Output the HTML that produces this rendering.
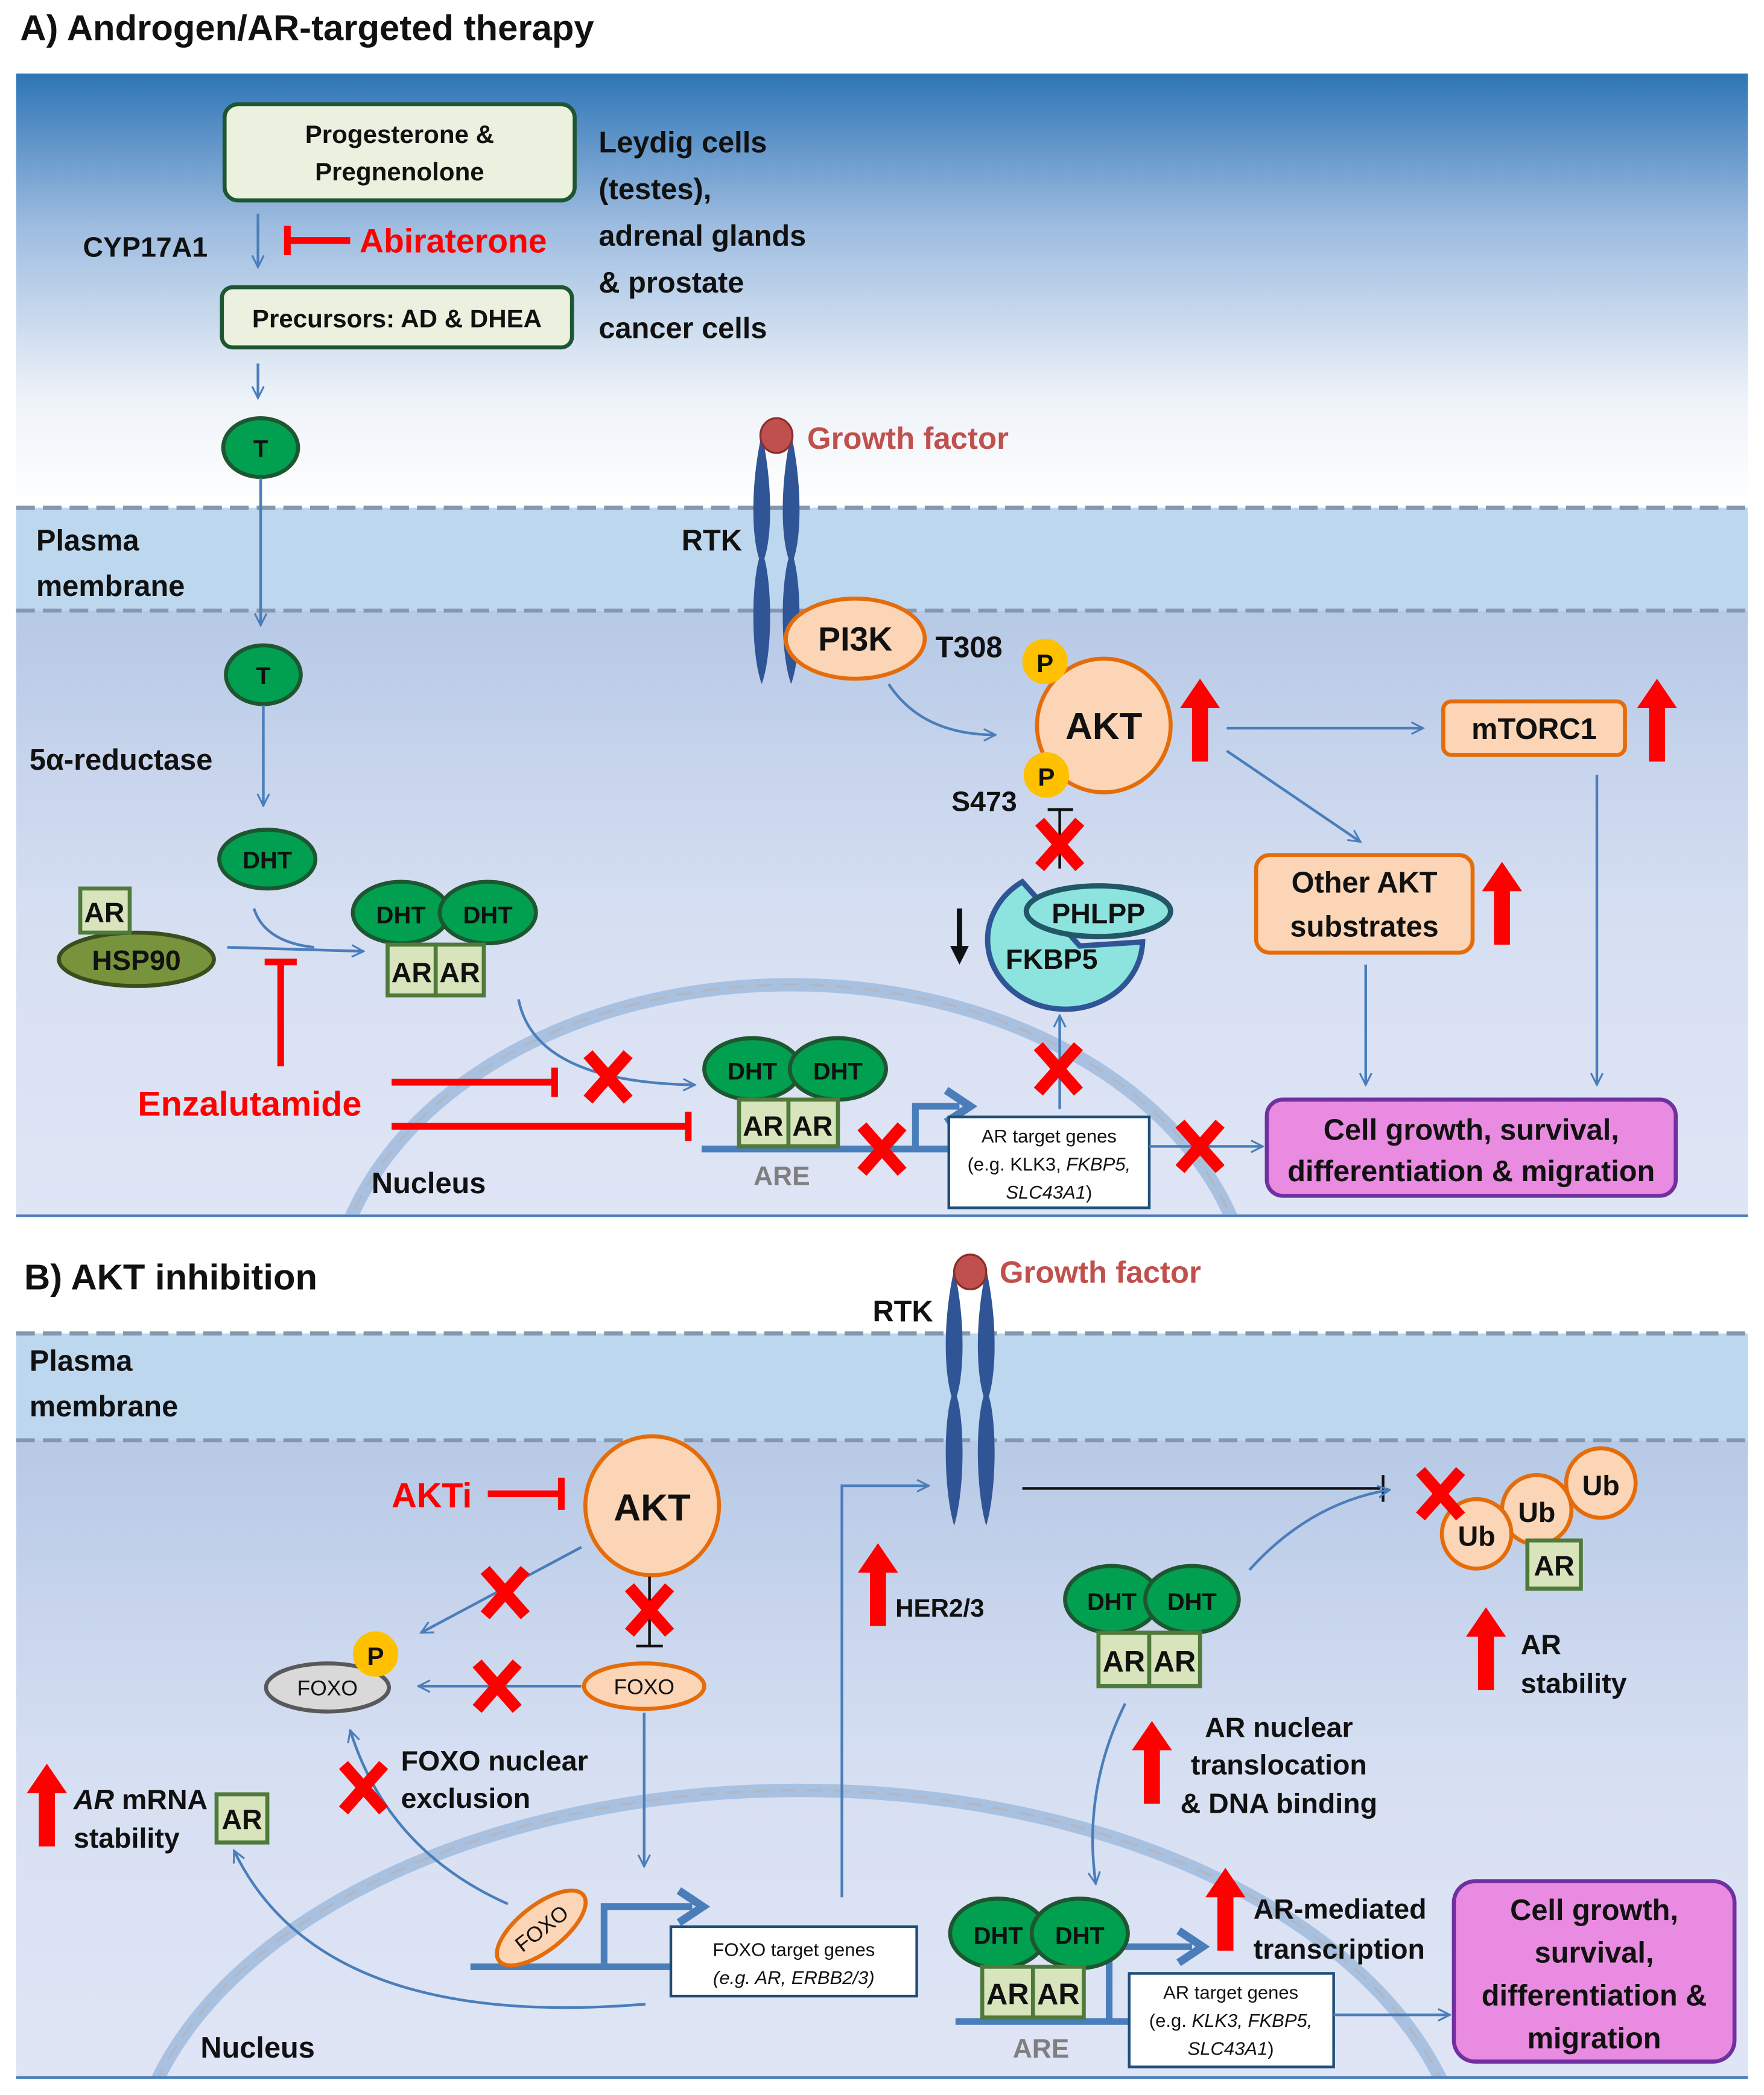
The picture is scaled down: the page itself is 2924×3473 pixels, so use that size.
<!DOCTYPE html>
<html><head><meta charset="utf-8"><style>
html,body{margin:0;padding:0;background:#fff;width:2924px;height:3473px;overflow:hidden}
svg{display:block}
text{font-family:"Liberation Sans",sans-serif;font-weight:bold;fill:#111}
</style></head><body>
<svg width="2924" height="3473" viewBox="0 0 1320 1568" xmlns="http://www.w3.org/2000/svg">
<defs>
<linearGradient id="gA" x1="0" y1="0" x2="0" y2="1">
<stop offset="0" stop-color="#2e75b6"/><stop offset="0.35" stop-color="#9dbce0"/><stop offset="0.75" stop-color="#eef3f9"/><stop offset="1" stop-color="#ffffff"/></linearGradient>
<linearGradient id="gC" x1="0" y1="0" x2="0" y2="1">
<stop offset="0" stop-color="#b7c9e6"/><stop offset="0.5" stop-color="#d6dff2"/><stop offset="1" stop-color="#dfe5f5"/></linearGradient>
<marker id="ar" viewBox="0 0 20 20" refX="18" refY="10" markerWidth="11" markerHeight="11" markerUnits="userSpaceOnUse" orient="auto"><polyline points="2,2 18,10 2,18" fill="none" stroke="#4a7ebb" stroke-width="2.5"/></marker>
<g id="x"><path d="M-15,-17 L15,17 M15,-17 L-15,17" stroke="#ff0000" stroke-width="9"/></g>
<g id="up"><path d="M0,0 L15,22 L6,22 L6,62 L-6,62 L-6,22 L-15,22Z" fill="#ff0000"/></g>
</defs>

<!-- PANEL A -->
<text x="15" y="30" font-size="27">A) Androgen/AR-targeted therapy</text>
<rect x="12" y="55" width="1296" height="325" fill="url(#gA)"/>
<rect x="12" y="380" width="1296" height="77" fill="#bdd7ee"/>
<rect x="12" y="457" width="1296" height="453" fill="url(#gC)"/>
<line x1="12" y1="380" x2="1308" y2="380" stroke="#8497b0" stroke-width="3" stroke-dasharray="14,6"/>
<line x1="12" y1="457" x2="1308" y2="457" stroke="#8497b0" stroke-width="3" stroke-dasharray="14,6"/>
<line x1="12" y1="910" x2="1308" y2="910" stroke="#4a7ebb" stroke-width="2"/>
<clipPath id="cA"><rect x="12" y="457" width="1296" height="452"/></clipPath>
<g clip-path="url(#cA)">
<ellipse cx="592" cy="985" rx="345" ry="248" fill="none" stroke="#a9c1e0" stroke-width="10"/>
<ellipse cx="592" cy="985" rx="345" ry="248" fill="none" stroke="#b0b8c8" stroke-width="2" stroke-dasharray="12,8"/>
</g>

<rect x="168" y="78" width="262" height="72" rx="10" fill="#ebf1de" stroke="#1e5631" stroke-width="3"/>
<text x="299" y="107" font-size="19" text-anchor="middle">Progesterone &amp;</text>
<text x="299" y="135" font-size="19" text-anchor="middle">Pregnenolone</text>
<line x1="193" y1="160" x2="193" y2="200" stroke="#4a7ebb" stroke-width="2" marker-end="url(#ar)"/>
<text x="62" y="192" font-size="21">CYP17A1</text>
<path d="M217,180 L262,180 M215,169 L215,191" stroke="#ff0000" stroke-width="5"/>
<text x="269" y="189" font-size="25" style="fill:#ff0000">Abiraterone</text>
<rect x="166" y="215" width="262" height="45" rx="8" fill="#ebf1de" stroke="#1e5631" stroke-width="3"/>
<text x="297" y="245" font-size="19" text-anchor="middle">Precursors: AD &amp; DHEA</text>
<g font-size="22"><text x="448" y="114">Leydig cells</text><text x="448" y="149">(testes),</text><text x="448" y="184">adrenal glands</text><text x="448" y="219">&amp; prostate</text><text x="448" y="253">cancer cells</text></g>
<line x1="193" y1="272" x2="193" y2="298" stroke="#4a7ebb" stroke-width="2" marker-end="url(#ar)"/>
<ellipse cx="195" cy="335" rx="28" ry="22" fill="#00a050" stroke="#1e5631" stroke-width="3"/><text x="195" y="342" font-size="18" text-anchor="middle">T</text>
<line x1="195" y1="358" x2="195" y2="468" stroke="#4a7ebb" stroke-width="2" marker-end="url(#ar)"/>
<text x="27" y="412" font-size="22">Plasma</text><text x="27" y="446" font-size="22">membrane</text>
<ellipse cx="197" cy="505" rx="28" ry="22" fill="#00a050" stroke="#1e5631" stroke-width="3"/><text x="197" y="512" font-size="18" text-anchor="middle">T</text>
<text x="22" y="576" font-size="22">5α-reductase</text>
<line x1="197" y1="528" x2="197" y2="603" stroke="#4a7ebb" stroke-width="2" marker-end="url(#ar)"/>
<ellipse cx="200" cy="643" rx="36" ry="22" fill="#00a050" stroke="#1e5631" stroke-width="3"/><text x="200" y="650" font-size="18" text-anchor="middle">DHT</text>
<ellipse cx="102" cy="718" rx="58" ry="20" fill="#77933c" stroke="#3a4d1c" stroke-width="3"/><text x="102" y="726" font-size="21" text-anchor="middle">HSP90</text>
<rect x="60" y="665" width="37" height="33" fill="#d8e4bc" stroke="#4f7a3a" stroke-width="3"/><text x="78" y="690" font-size="21" text-anchor="middle">AR</text>
<path d="M190,680 Q198,705 235,709" fill="none" stroke="#4a7ebb" stroke-width="2"/>
<line x1="170" y1="709" x2="272" y2="712" stroke="#4a7ebb" stroke-width="2" marker-end="url(#ar)"/>
<path d="M210,798 L210,722 M198,720 L222,720" stroke="#ff0000" stroke-width="5"/>
<ellipse cx="300" cy="683" rx="36" ry="23" fill="#00a050" stroke="#1e5631" stroke-width="3"/>
<ellipse cx="365" cy="683" rx="36" ry="23" fill="#00a050" stroke="#1e5631" stroke-width="3"/>
<text x="300" y="691" font-size="18" text-anchor="middle">DHT</text><text x="365" y="691" font-size="18" text-anchor="middle">DHT</text>
<rect x="290" y="707" width="36" height="38" fill="#d8e4bc" stroke="#4f7a3a" stroke-width="3"/><rect x="326" y="707" width="36" height="38" fill="#d8e4bc" stroke="#4f7a3a" stroke-width="3"/>
<text x="308" y="735" font-size="21" text-anchor="middle">AR</text><text x="344" y="735" font-size="21" text-anchor="middle">AR</text>
<text x="103" y="835" font-size="26" style="fill:#ff0000">Enzalutamide</text>
<path d="M293,810 L413,810 M415,799 L415,821" stroke="#ff0000" stroke-width="5"/>
<path d="M293,843 L513,843 M515,832 L515,854" stroke="#ff0000" stroke-width="5"/>
<path d="M388,748 Q400,810 520,812" fill="none" stroke="#4a7ebb" stroke-width="2" marker-end="url(#ar)"/>
<use href="#x" x="455" y="806"/>
<line x1="525" y1="860" x2="712" y2="860" stroke="#4a7ebb" stroke-width="5"/>
<path d="M685,860 L685,828 L718,828" fill="none" stroke="#4a7ebb" stroke-width="5"/><path d="M708,816 L726,828 L708,840" fill="none" stroke="#4a7ebb" stroke-width="6"/>
<ellipse cx="563" cy="800" rx="36" ry="23" fill="#00a050" stroke="#1e5631" stroke-width="3"/>
<ellipse cx="627" cy="800" rx="36" ry="23" fill="#00a050" stroke="#1e5631" stroke-width="3"/>
<text x="563" y="808" font-size="18" text-anchor="middle">DHT</text><text x="627" y="808" font-size="18" text-anchor="middle">DHT</text>
<rect x="553" y="823" width="37" height="35" fill="#d8e4bc" stroke="#4f7a3a" stroke-width="3"/><rect x="590" y="823" width="37" height="35" fill="#d8e4bc" stroke="#4f7a3a" stroke-width="3"/>
<text x="571" y="850" font-size="21" text-anchor="middle">AR</text><text x="608" y="850" font-size="21" text-anchor="middle">AR</text>
<text x="585" y="887" font-size="20" text-anchor="middle" style="fill:#7f7f7f">ARE</text>
<use href="#x" x="660" y="860"/>
<rect x="710" y="836" width="150" height="68" fill="#fff" stroke="#1f4e79" stroke-width="2"/>
<text x="785" y="855" font-size="14" text-anchor="middle" style="font-weight:normal">AR target genes</text>
<text x="785" y="876" font-size="14" text-anchor="middle" style="font-weight:normal">(e.g. KLK3, <tspan font-style="italic">FKBP5,</tspan></text>
<text x="785" y="897" font-size="14" text-anchor="middle" style="font-weight:normal"><tspan font-style="italic">SLC43A1</tspan>)</text>
<line x1="860" y1="858" x2="945" y2="858" stroke="#4a7ebb" stroke-width="2" marker-end="url(#ar)"/>
<use href="#x" x="898" y="858"/>
<rect x="948" y="823" width="306" height="72" rx="12" fill="#e98be0" stroke="#7030a0" stroke-width="3"/>
<text x="1101" y="853" font-size="22" text-anchor="middle">Cell growth, survival,</text>
<text x="1101" y="884" font-size="22" text-anchor="middle">differentiation &amp; migration</text>
<text x="278" y="893" font-size="22">Nucleus</text>
<path d="M570,325 C562,360 562,400 568,418 C562,440 562,490 570,512 C578,490 578,440 572,418 C578,400 578,360 570,325Z" fill="#2f5597"/>
<path d="M592,325 C584,360 584,400 590,418 C584,440 584,490 592,512 C600,490 600,440 594,418 C600,400 600,360 592,325Z" fill="#2f5597"/>
<ellipse cx="581" cy="326" rx="12" ry="13" fill="#c0504d" stroke="#8b2e2b" stroke-width="1.5"/>
<text x="604" y="336" font-size="23" style="fill:#c0504d">Growth factor</text>
<text x="510" y="412" font-size="22">RTK</text>
<ellipse cx="640" cy="478" rx="52" ry="30" fill="#fbd5b5" stroke="#e46c0a" stroke-width="3"/><text x="640" y="487" font-size="25" text-anchor="middle">PI3K</text>
<text x="700" y="492" font-size="22">T308</text>
<path d="M665,512 Q690,550 745,550" fill="none" stroke="#4a7ebb" stroke-width="2" marker-end="url(#ar)"/>
<circle cx="826" cy="543" r="50" fill="#fbd5b5" stroke="#e46c0a" stroke-width="3"/><text x="826" y="553" font-size="28" text-anchor="middle">AKT</text>
<circle cx="782" cy="495" r="17" fill="#ffc000"/><text x="782" y="503" font-size="19" text-anchor="middle">P</text>
<circle cx="783" cy="580" r="17" fill="#ffc000"/><text x="783" y="588" font-size="19" text-anchor="middle">P</text>
<text x="712" y="607" font-size="21">S473</text>
<use href="#up" x="898" y="508"/>
<line x1="918" y1="545" x2="1065" y2="545" stroke="#4a7ebb" stroke-width="2" marker-end="url(#ar)"/>
<rect x="1080" y="525" width="136" height="40" rx="6" fill="#fbd5b5" stroke="#e46c0a" stroke-width="3"/><text x="1148" y="553" font-size="22" text-anchor="middle">mTORC1</text>
<use href="#up" x="1240" y="508"/>
<line x1="918" y1="562" x2="1018" y2="630" stroke="#4a7ebb" stroke-width="2" marker-end="url(#ar)"/>
<rect x="940" y="640" width="162" height="73" rx="10" fill="#fbd5b5" stroke="#e46c0a" stroke-width="3"/>
<text x="1021" y="668" font-size="22" text-anchor="middle">Other AKT</text><text x="1021" y="701" font-size="22" text-anchor="middle">substrates</text>
<use href="#up" x="1124" y="645"/>
<line x1="1022" y1="722" x2="1022" y2="812" stroke="#4a7ebb" stroke-width="2" marker-end="url(#ar)"/>
<line x1="1195" y1="580" x2="1195" y2="812" stroke="#4a7ebb" stroke-width="2" marker-end="url(#ar)"/>
<path d="M793,650 L793,606 M784,606 L803,606" stroke="#111" stroke-width="2"/>
<use href="#x" x="793" y="632"/>
<path d="M765,660 A58,52 0 1 0 855,705 L808,708 Z" fill="#8de4de" stroke="#2f5597" stroke-width="4"/>
<ellipse cx="822" cy="682" rx="54" ry="19" fill="#8de4de" stroke="#215868" stroke-width="4"/>
<text x="822" y="691" font-size="21" text-anchor="middle">PHLPP</text>
<text x="787" y="725" font-size="21" text-anchor="middle">FKBP5</text>
<path d="M718,680 L718,712" stroke="#111" stroke-width="4"/><path d="M711,708 L718,722 L725,708Z" fill="#111"/>
<line x1="793" y1="830" x2="793" y2="760" stroke="#4a7ebb" stroke-width="2" marker-end="url(#ar)"/>
<use href="#x" x="792" y="800"/>

<!-- PANEL B -->
<text x="18" y="965" font-size="27">B) AKT inhibition</text>
<rect x="12" y="998" width="1296" height="80" fill="#bdd7ee"/>
<rect x="12" y="1078" width="1296" height="477" fill="url(#gC)"/>
<line x1="12" y1="998" x2="1308" y2="998" stroke="#8497b0" stroke-width="3" stroke-dasharray="14,6"/>
<line x1="12" y1="1078" x2="1308" y2="1078" stroke="#8497b0" stroke-width="3" stroke-dasharray="14,6"/>
<line x1="12" y1="1555" x2="1308" y2="1555" stroke="#4a7ebb" stroke-width="2"/>
<clipPath id="cB"><rect x="12" y="1078" width="1296" height="476"/></clipPath>
<g clip-path="url(#cB)">
<ellipse cx="598" cy="1640" rx="500" ry="300" fill="none" stroke="#a9c1e0" stroke-width="10"/>
<ellipse cx="598" cy="1640" rx="500" ry="300" fill="none" stroke="#b0b8c8" stroke-width="2" stroke-dasharray="12,8"/>
</g>
<text x="22" y="1026" font-size="22">Plasma</text><text x="22" y="1060" font-size="22">membrane</text>
<path d="M714,950 C706,985 706,1025 712,1045 C706,1065 706,1115 714,1142 C722,1115 722,1065 716,1045 C722,1025 722,985 714,950Z" fill="#2f5597"/>
<path d="M738,950 C730,985 730,1025 736,1045 C730,1065 730,1115 738,1142 C746,1115 746,1065 740,1045 C746,1025 746,985 738,950Z" fill="#2f5597"/>
<ellipse cx="726" cy="952" rx="12" ry="13" fill="#c0504d" stroke="#8b2e2b" stroke-width="1.5"/>
<text x="748" y="960" font-size="23" style="fill:#c0504d">Growth factor</text>
<text x="653" y="989" font-size="22">RTK</text>
<text x="293" y="1128" font-size="26" style="fill:#ff0000">AKTi</text>
<path d="M365,1118 L418,1118 M420,1106 L420,1130" stroke="#ff0000" stroke-width="5"/>
<ellipse cx="488" cy="1127" rx="50" ry="52" fill="#fbd5b5" stroke="#e46c0a" stroke-width="3"/><text x="488" y="1138" font-size="28" text-anchor="middle">AKT</text>
<line x1="435" y1="1158" x2="315" y2="1222" stroke="#4a7ebb" stroke-width="2" marker-end="url(#ar)"/>
<use href="#x" x="378" y="1192"/>
<path d="M486,1180 L486,1232 M476,1232 L496,1232" stroke="#111" stroke-width="2"/>
<use href="#x" x="486" y="1205"/>
<ellipse cx="482" cy="1262" rx="45" ry="17" fill="#fbd5b5" stroke="#e46c0a" stroke-width="3"/><text x="482" y="1268" font-size="16" text-anchor="middle" style="font-weight:normal">FOXO</text>
<line x1="435" y1="1262" x2="313" y2="1262" stroke="#4a7ebb" stroke-width="2" marker-end="url(#ar)"/>
<use href="#x" x="372" y="1262"/>
<ellipse cx="245" cy="1263" rx="46" ry="18" fill="#d9d9d9" stroke="#595959" stroke-width="3"/><text x="245" y="1269" font-size="16" text-anchor="middle" style="font-weight:normal">FOXO</text>
<circle cx="281" cy="1238" r="17" fill="#ffc000"/><text x="281" y="1246" font-size="19" text-anchor="middle">P</text>
<line x1="482" y1="1282" x2="482" y2="1397" stroke="#4a7ebb" stroke-width="2" marker-end="url(#ar)"/>
<path d="M380,1425 Q290,1385 262,1295" fill="none" stroke="#4a7ebb" stroke-width="2" marker-end="url(#ar)"/>
<use href="#x" x="272" y="1338"/>
<text x="300" y="1325" font-size="21">FOXO nuclear</text><text x="300" y="1353" font-size="21">exclusion</text>
<use href="#up" x="35" y="1320"/>
<text x="55" y="1354" font-size="21"><tspan font-style="italic">AR</tspan> mRNA</text><text x="55" y="1383" font-size="21">stability</text>
<rect x="162" y="1343" width="38" height="36" fill="#d8e4bc" stroke="#4f7a3a" stroke-width="3"/><text x="181" y="1369" font-size="21" text-anchor="middle">AR</text>
<path d="M483,1500 Q240,1520 175,1385" fill="none" stroke="#4a7ebb" stroke-width="2" marker-end="url(#ar)"/>
<line x1="352" y1="1472" x2="505" y2="1472" stroke="#4a7ebb" stroke-width="5"/>
<path d="M452,1472 L452,1427 L518,1427" fill="none" stroke="#4a7ebb" stroke-width="5"/><path d="M508,1415 L526,1427 L508,1439" fill="none" stroke="#4a7ebb" stroke-width="6"/>
<g transform="translate(405,1443) rotate(-38)"><ellipse rx="40" ry="17" fill="#fbd5b5" stroke="#e46c0a" stroke-width="3"/><text y="6" font-size="16" text-anchor="middle" style="font-weight:normal">FOXO</text></g>
<rect x="502" y="1442" width="184" height="52" fill="#fff" stroke="#1f4e79" stroke-width="2"/>
<text x="594" y="1464" font-size="14" text-anchor="middle" style="font-weight:normal">FOXO target genes</text>
<text x="594" y="1485" font-size="14" text-anchor="middle" font-style="italic" style="font-weight:normal">(e.g. AR, ERBB2/3)</text>
<text x="150" y="1540" font-size="22">Nucleus</text>
<path d="M630,1420 L630,1112 L695,1112" fill="none" stroke="#4a7ebb" stroke-width="2" marker-end="url(#ar)"/>
<use href="#up" x="657" y="1155"/>
<text x="670" y="1210" font-size="19">HER2/3</text>
<path d="M765,1114 L1033,1114 M1035,1104 L1035,1124" stroke="#111" stroke-width="2"/>
<path d="M935,1175 Q980,1125 1040,1115" fill="none" stroke="#4a7ebb" stroke-width="2" marker-end="url(#ar)"/>
<circle cx="1198" cy="1110" r="26" fill="#fbd5b5" stroke="#e46c0a" stroke-width="3"/><text x="1198" y="1119" font-size="21" text-anchor="middle">Ub</text>
<circle cx="1150" cy="1130" r="26" fill="#fbd5b5" stroke="#e46c0a" stroke-width="3"/><text x="1150" y="1139" font-size="21" text-anchor="middle">Ub</text>
<rect x="1143" y="1153" width="40" height="36" fill="#d8e4bc" stroke="#4f7a3a" stroke-width="3"/><text x="1163" y="1179" font-size="21" text-anchor="middle">AR</text>
<circle cx="1105" cy="1148" r="26" fill="#fbd5b5" stroke="#e46c0a" stroke-width="3"/><text x="1105" y="1157" font-size="21" text-anchor="middle">Ub</text>
<use href="#x" x="1078" y="1118"/>
<ellipse cx="832" cy="1197" rx="35" ry="25" fill="#00a050" stroke="#1e5631" stroke-width="3"/>
<ellipse cx="892" cy="1197" rx="35" ry="25" fill="#00a050" stroke="#1e5631" stroke-width="3"/>
<text x="832" y="1205" font-size="18" text-anchor="middle">DHT</text><text x="892" y="1205" font-size="18" text-anchor="middle">DHT</text>
<rect x="822" y="1222" width="38" height="40" fill="#d8e4bc" stroke="#4f7a3a" stroke-width="3"/><rect x="860" y="1222" width="38" height="40" fill="#d8e4bc" stroke="#4f7a3a" stroke-width="3"/>
<text x="841" y="1251" font-size="22" text-anchor="middle">AR</text><text x="879" y="1251" font-size="22" text-anchor="middle">AR</text>
<path d="M842,1275 Q810,1340 820,1410" fill="none" stroke="#4a7ebb" stroke-width="2" marker-end="url(#ar)"/>
<use href="#up" x="862" y="1288"/>
<text x="957" y="1300" font-size="21" text-anchor="middle">AR nuclear</text><text x="957" y="1328" font-size="21" text-anchor="middle">translocation</text><text x="957" y="1357" font-size="21" text-anchor="middle">&amp; DNA binding</text>
<use href="#up" x="1112" y="1203"/>
<text x="1138" y="1238" font-size="21">AR</text><text x="1138" y="1267" font-size="21">stability</text>
<line x1="715" y1="1513" x2="850" y2="1513" stroke="#4a7ebb" stroke-width="5"/>
<path d="M830,1513 L830,1457 L892,1457" fill="none" stroke="#4a7ebb" stroke-width="5"/><path d="M882,1445 L900,1457 L882,1469" fill="none" stroke="#4a7ebb" stroke-width="6"/>
<ellipse cx="747" cy="1447" rx="36" ry="26" fill="#00a050" stroke="#1e5631" stroke-width="3"/>
<ellipse cx="808" cy="1447" rx="36" ry="26" fill="#00a050" stroke="#1e5631" stroke-width="3"/>
<text x="747" y="1455" font-size="18" text-anchor="middle">DHT</text><text x="808" y="1455" font-size="18" text-anchor="middle">DHT</text>
<rect x="735" y="1472" width="38" height="38" fill="#d8e4bc" stroke="#4f7a3a" stroke-width="3"/><rect x="773" y="1472" width="38" height="38" fill="#d8e4bc" stroke="#4f7a3a" stroke-width="3"/>
<text x="754" y="1500" font-size="22" text-anchor="middle">AR</text><text x="792" y="1500" font-size="22" text-anchor="middle">AR</text>
<text x="779" y="1540" font-size="20" text-anchor="middle" style="fill:#7f7f7f">ARE</text>
<use href="#up" x="917" y="1398"/>
<text x="938" y="1436" font-size="21">AR-mediated</text><text x="938" y="1466" font-size="21">transcription</text>
<rect x="845" y="1477" width="153" height="70" fill="#fff" stroke="#1f4e79" stroke-width="2"/>
<text x="921" y="1496" font-size="14" text-anchor="middle" style="font-weight:normal">AR target genes</text>
<text x="921" y="1517" font-size="14" text-anchor="middle" style="font-weight:normal">(e.g. <tspan font-style="italic">KLK3, FKBP5,</tspan></text>
<text x="921" y="1538" font-size="14" text-anchor="middle" style="font-weight:normal"><tspan font-style="italic">SLC43A1</tspan>)</text>
<line x1="998" y1="1508" x2="1085" y2="1508" stroke="#4a7ebb" stroke-width="2" marker-end="url(#ar)"/>
<rect x="1088" y="1408" width="210" height="135" rx="16" fill="#e98be0" stroke="#7030a0" stroke-width="3"/>
<g font-size="22" text-anchor="middle"><text x="1193" y="1437">Cell growth,</text><text x="1193" y="1469">survival,</text><text x="1193" y="1501">differentiation &amp;</text><text x="1193" y="1533">migration</text></g>
</svg>
</body></html>
